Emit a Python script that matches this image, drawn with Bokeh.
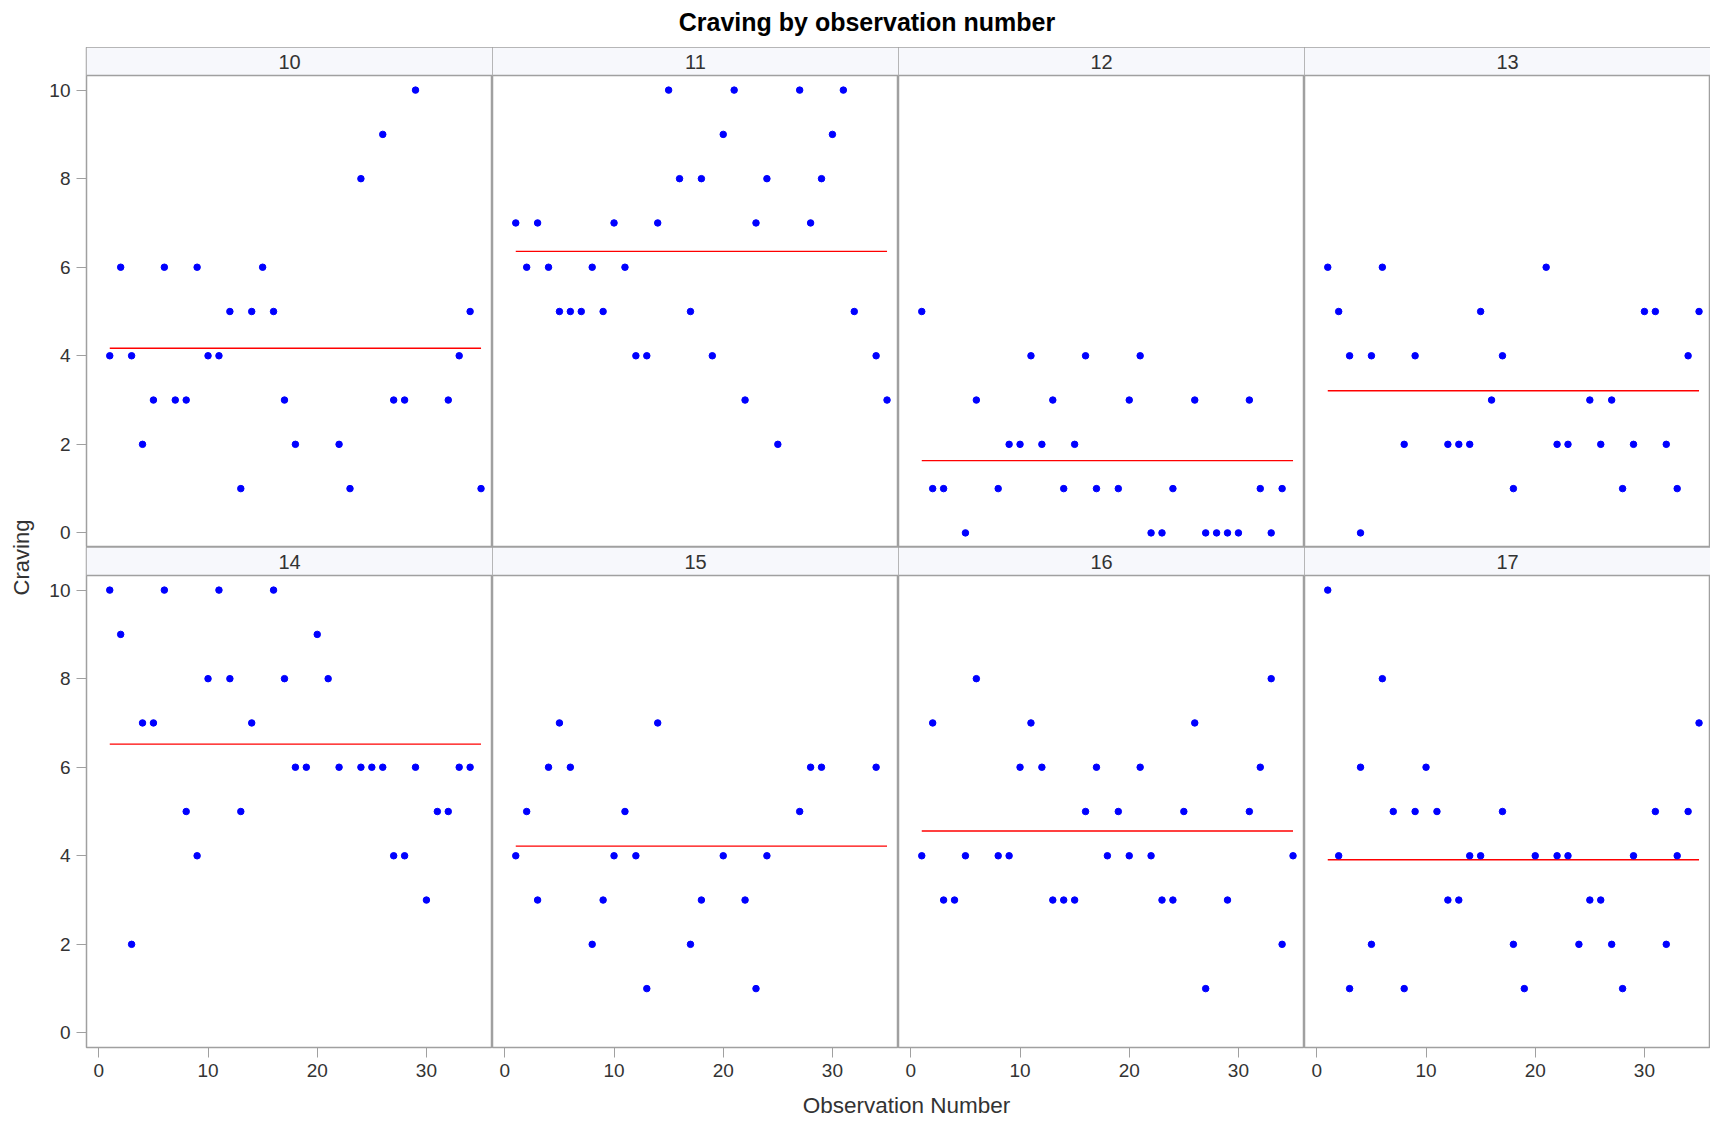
import math
from bokeh.plotting import figure
from bokeh.models import Range1d, FixedTicker, BoxAnnotation, Span, Label
from bokeh.layouts import row, column
from bokeh.embed import file_html
from bokeh.resources import INLINE

# ---------------- data ----------------
subjects = ["10", "11", "12", "13", "14", "15", "16", "17"]

s10_obs = [1, 2, 3, 4, 5, 6, 7, 8, 9, 10, 11, 12, 13, 14, 15, 16, 17, 18, 22, 23, 24, 26, 27, 28, 29, 32, 33, 34, 35]
s10_crv = [4, 6, 4, 2, 3, 6, 3, 3, 6, 4, 4, 5, 1, 5, 6, 5, 3, 2, 2, 1, 8, 9, 3, 3, 10, 3, 4, 5, 1]

s11_obs = [1, 2, 3, 4, 5, 6, 7, 8, 9, 10, 11, 12, 13, 14, 15, 16, 17, 18, 19, 20, 21, 22, 23, 24, 25, 27, 28, 29, 30, 31, 32, 34, 35]
s11_crv = [7, 6, 7, 6, 5, 5, 5, 6, 5, 7, 6, 4, 4, 7, 10, 8, 5, 8, 4, 9, 10, 3, 7, 8, 2, 10, 7, 8, 9, 10, 5, 4, 3]

s12_obs = [1, 2, 3, 5, 6, 8, 9, 10, 11, 12, 13, 14, 15, 16, 17, 19, 20, 21, 22, 23, 24, 26, 27, 28, 29, 30, 31, 32, 33, 34]
s12_crv = [5, 1, 1, 0, 3, 1, 2, 2, 4, 2, 3, 1, 2, 4, 1, 1, 3, 4, 0, 0, 1, 3, 0, 0, 0, 0, 3, 1, 0, 1]

s13_obs = [1, 2, 3, 4, 5, 6, 8, 9, 12, 13, 14, 15, 16, 17, 18, 21, 22, 23, 25, 26, 27, 28, 29, 30, 31, 32, 33, 34, 35]
s13_crv = [6, 5, 4, 0, 4, 6, 2, 4, 2, 2, 2, 5, 3, 4, 1, 6, 2, 2, 3, 2, 3, 1, 2, 5, 5, 2, 1, 4, 5]

s14_obs = [1, 2, 3, 4, 5, 6, 8, 9, 10, 11, 12, 13, 14, 16, 17, 18, 19, 20, 21, 22, 24, 25, 26, 27, 28, 29, 30, 31, 32, 33, 34]
s14_crv = [10, 9, 2, 7, 7, 10, 5, 4, 8, 10, 8, 5, 7, 10, 8, 6, 6, 9, 8, 6, 6, 6, 6, 4, 4, 6, 3, 5, 5, 6, 6]

s15_obs = [1, 2, 3, 4, 5, 6, 8, 9, 10, 11, 12, 13, 14, 17, 18, 20, 22, 23, 24, 27, 28, 29, 34]
s15_crv = [4, 5, 3, 6, 7, 6, 2, 3, 4, 5, 4, 1, 7, 2, 3, 4, 3, 1, 4, 5, 6, 6, 6]

s16_obs = [1, 2, 3, 4, 5, 6, 8, 9, 10, 11, 12, 13, 14, 15, 16, 17, 18, 19, 20, 21, 22, 23, 24, 25, 26, 27, 29, 31, 32, 33, 34, 35]
s16_crv = [4, 7, 3, 3, 4, 8, 4, 4, 6, 7, 6, 3, 3, 3, 5, 6, 4, 5, 4, 6, 4, 3, 3, 5, 7, 1, 3, 5, 6, 8, 2, 4]

s17_obs = [1, 2, 3, 4, 5, 6, 7, 8, 9, 10, 11, 12, 13, 14, 15, 17, 18, 19, 20, 22, 23, 24, 25, 26, 27, 28, 29, 31, 32, 33, 34, 35]
s17_crv = [10, 4, 1, 6, 2, 8, 5, 1, 5, 6, 5, 3, 3, 4, 4, 5, 2, 1, 4, 4, 4, 2, 3, 3, 2, 1, 4, 5, 2, 4, 5, 7]

# subject mean craving (red reference line), spanning observations 1..35
mean_craving = [4.17, 6.36, 1.63, 3.21, 6.52, 4.22, 4.56, 3.91]
mean_line_obs = [1, 35]

x_ticks = [0, 10, 20, 30]
y_ticks = [0, 2, 4, 6, 8, 10]

all_obs = [s10_obs, s11_obs, s12_obs, s13_obs, s14_obs, s15_obs, s16_obs, s17_obs]
all_crv = [s10_crv, s11_crv, s12_crv, s13_crv, s14_crv, s15_crv, s16_crv, s17_crv]

# ---------------- styling / layout ----------------
FONT = "Liberation Sans"
TXT = "#333333"
GRID_GREY = "#A0A0A0"
PANEL_W = 406
PLOT_H = 472
STRIP_H = 28
AX_W = 39
AX_H = 40
LEFT_W = 46
TITLE_H = 47
XLAB_H = 31
X_LO, X_HI = -1.13, 36.05
Y_LO, Y_HI = -0.33, 10.33
strip_units = STRIP_H * (Y_HI - Y_LO) / PLOT_H


def make_panel(i, left, bottom):
    p = figure(
        frame_width=PANEL_W, frame_height=PLOT_H + STRIP_H,
        x_range=Range1d(X_LO, X_HI), y_range=Range1d(Y_LO, Y_HI + strip_units),
        output_backend="svg", toolbar_location=None,
        x_axis_location="below" if bottom else None,
        y_axis_location="left" if left else None,
        min_border=0,
        min_border_left=AX_W if left else 0,
        min_border_bottom=AX_H if bottom else 0,
    )
    p.grid.visible = False
    p.outline_line_color = GRID_GREY
    p.outline_line_width = 1.5
    p.background_fill_color = "white"
    p.border_fill_color = "white"
    for ax in p.axis:
        ax.axis_line_color = None
        ax.major_tick_line_color = GRID_GREY
        ax.major_tick_out = 10
        ax.major_tick_in = 0
        ax.minor_tick_line_color = None
        ax.major_label_text_font = FONT
        ax.major_label_text_font_size = "19px"
        ax.major_label_text_color = TXT
        ax.major_label_standoff = 6
    if bottom:
        p.xaxis.ticker = FixedTicker(ticks=x_ticks)
    if left:
        p.yaxis.ticker = FixedTicker(ticks=y_ticks)

    # strip header
    p.add_layout(BoxAnnotation(bottom=Y_HI, fill_color="#F7F8FC", fill_alpha=1.0,
                               line_color=None, level="underlay"))
    p.add_layout(Span(location=Y_HI, dimension="width", line_color=GRID_GREY, line_width=1.5))
    p.add_layout(Label(x=(X_LO + X_HI) / 2, y=Y_HI + strip_units / 2, text=subjects[i],
                       text_align="center", text_baseline="middle",
                       text_font=FONT, text_font_size="20px", text_color=TXT))

    p.line(mean_line_obs, [mean_craving[i], mean_craving[i]], line_color="#FF0000", line_width=1.3)
    p.scatter(all_obs[i], all_crv[i], size=6.5, fill_color="#0000FF", line_color="#0000FF")
    return p


panels = []
for i in range(8):
    r, c = divmod(i, 4)
    panels.append(make_panel(i, left=(c == 0), bottom=(r == 1)))

# main title
grid_w = AX_W + 4 * PANEL_W
total_w = LEFT_W + grid_w
title_fig = figure(width=total_w, height=TITLE_H, x_range=Range1d(0, total_w), y_range=Range1d(0, TITLE_H),
                   output_backend="svg", toolbar_location=None, x_axis_location=None, y_axis_location=None,
                   min_border=0)
title_fig.outline_line_color = None
title_fig.grid.visible = False
title_fig.add_layout(Label(x=total_w / 2 + 12, y=TITLE_H - 21, text="Craving by observation number",
                           text_align="center", text_baseline="middle", text_font=FONT,
                           text_font_size="25px", text_font_style="bold", text_color="black"))

# y axis label
rows_h = 2 * (PLOT_H + STRIP_H)
ylab_fig = figure(width=LEFT_W, height=rows_h, x_range=Range1d(0, LEFT_W), y_range=Range1d(0, rows_h),
                  output_backend="svg", toolbar_location=None, x_axis_location=None, y_axis_location=None,
                  min_border=0)
ylab_fig.outline_line_color = None
ylab_fig.grid.visible = False
ylab_fig.add_layout(Label(x=21, y=rows_h / 2 - 10, text="Craving", angle=math.pi / 2,
                          text_align="center", text_baseline="middle", text_font=FONT,
                          text_font_size="22px", text_color=TXT))

# x axis label
xlab_fig = figure(width=grid_w, height=XLAB_H, x_range=Range1d(0, grid_w), y_range=Range1d(0, XLAB_H),
                  output_backend="svg", toolbar_location=None, x_axis_location=None, y_axis_location=None,
                  min_border=0)
xlab_fig.outline_line_color = None
xlab_fig.grid.visible = False
xlab_fig.add_layout(Label(x=AX_W + 2 * PANEL_W + 9, y=XLAB_H - 18, text="Observation Number",
                          text_align="center", text_baseline="middle", text_font=FONT,
                          text_font_size="22.5px", text_color=TXT))

layout = column(
    title_fig,
    row(ylab_fig, column(row(*panels[:4]), row(*panels[4:]), xlab_fig)),
)

open("out.html", "w").write(file_html(layout, INLINE))
